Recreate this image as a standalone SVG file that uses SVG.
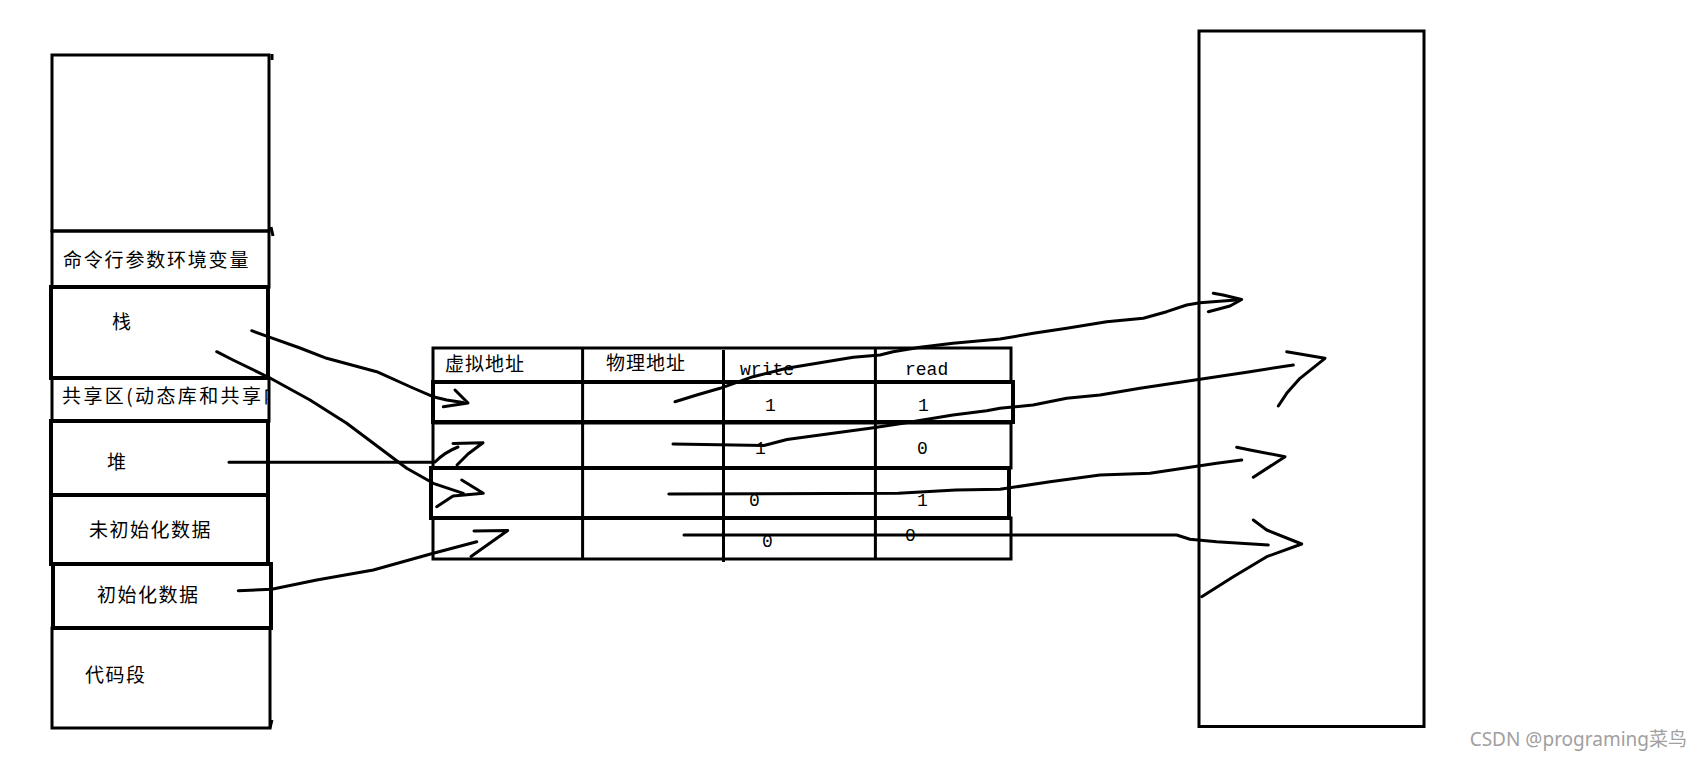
<svg xmlns="http://www.w3.org/2000/svg" width="1701" height="765" viewBox="0 0 1701 765">
<style>
.box{fill:none;stroke:#000;stroke-width:3}
.bold{fill:none;stroke:#000;stroke-width:4}
.ln{fill:none;stroke:#000;stroke-width:3}
.cn{font-family:"Noto Sans CJK SC","Noto Sans CJK JP",sans-serif;font-size:19px;fill:#000}
.mono{font-family:"Liberation Mono","DejaVu Sans Mono",monospace;font-size:18px;fill:#000}
.hand{fill:none;stroke:#000;stroke-width:3;stroke-linecap:round;stroke-linejoin:round}
.wm{font-family:"Noto Sans","Noto Sans CJK SC",sans-serif;font-size:19px;fill:#a0a0a0}
</style>
<defs>
<clipPath id="clipShared"><rect x="52" y="378" width="216" height="43"/></clipPath>
</defs>
<rect x="0" y="0" width="1701" height="765" fill="#fff"/>

<g id="stack-top">
<rect class="box" x="52" y="55" width="217" height="176"/>
<path class="ln" d="M272,54 L272,60 M271,227 L273,236" stroke-width="2"/>
</g>
<g id="seg-cmdline">
<rect class="box" x="52" y="231" width="217" height="56"/>
<text class="cn" x="63" y="267" letter-spacing="1.8">命令行参数环境变量</text>
</g>
<g id="seg-stack">
<rect class="bold" x="51" y="287" width="217" height="91"/>
<text class="cn" x="112" y="329">栈</text>
</g>
<g id="seg-shared">
<rect class="box" x="52" y="378" width="217" height="43"/>
<text class="cn" x="62" y="403" letter-spacing="2.4" clip-path="url(#clipShared)">共享区(动态库和共享内存)</text>
</g>
<g id="seg-heap">
<rect class="bold" x="51" y="421" width="217" height="74"/>
<text class="cn" x="107" y="469">堆</text>
</g>
<g id="seg-bss">
<rect class="bold" x="51" y="495" width="217" height="69"/>
<text class="cn" x="89" y="537" letter-spacing="1.5">未初始化数据</text>
</g>
<g id="seg-data">
<rect class="bold" x="53" y="564" width="218" height="64"/>
<text class="cn" x="97" y="602" letter-spacing="1.5">初始化数据</text>
</g>
<g id="seg-code">
<rect class="box" x="52" y="628" width="218" height="100"/>
<text class="cn" x="85" y="682" letter-spacing="1.5">代码段</text>
<path class="ln" d="M272,720 L270,728" stroke-width="2"/>
</g>

<g id="page-table">
<rect class="box" x="433" y="348" width="578" height="34"/>
<rect class="bold" x="433" y="382" width="580" height="40"/>
<rect class="box" x="433" y="423" width="578" height="45"/>
<rect class="bold" x="431" y="468" width="578" height="50"/>
<rect class="box" x="433" y="518" width="578" height="41"/>
<path class="ln" d="M582.6,348 L582.6,559 M723.5,350 L723.5,562 M875.4,348 L875.4,559"/>
<text class="cn" x="445" y="371" letter-spacing="1">虚拟地址</text>
<text class="cn" x="606" y="370" letter-spacing="1">物理地址</text>
<text class="mono" x="740" y="375">write</text>
<text class="mono" x="905" y="375">read</text>
<text class="mono" x="765" y="411">1</text>
<text class="mono" x="918" y="411">1</text>
<text class="mono" x="755" y="454">1</text>
<text class="mono" x="917" y="454">0</text>
<text class="mono" x="749" y="506">0</text>
<text class="mono" x="917" y="506">1</text>
<text class="mono" x="762" y="547">0</text>
<text class="mono" x="905" y="541">0</text>
</g>

<g id="physical-memory">
<rect class="box" x="1199" y="31" width="225" height="695.5"/>
</g>

<g id="connectors">
<path class="hand" d="M251.7,330.7 L268,336.7 L300,348 L326.7,358.3 L376.7,371.7 L413,388 L433,396.7 L446.7,400 L463,402.5"/>
<path class="hand" d="M455,390 L468,403 L443.3,406.7"/>
<path class="hand" d="M216.7,351.7 L233,360 L270,378 L310,400 L346.7,423.3 L386.7,453.3 L406.7,468.3 L433.3,483.3 L463.3,493.3"/>
<path class="hand" d="M461.7,480 L483.3,493.3 L453,496 L436.7,506.7"/>
<path class="hand" d="M229,462.3 L433,462.3"/>
<path class="hand" d="M435,462 Q445,452 458,447 M453,443.5 L483,442.7 L468,454 L457,465"/>
<path class="hand" d="M238.3,590.7 L271.7,589.3 L316.7,580 L373.3,570 L433.3,553.3 L476.7,541.7"/>
<path class="hand" d="M474,531 L507.7,530.5 L471,556.5"/>

<path class="hand" d="M675,401.7 L696.7,395 L720,388.3 L753,376.7 L786.7,368.3 L820,362.7 L853.3,357.3 L880,355 L893,351.7 L920,347.3 L953,343.3 L1000,339 L1033.3,333.3 L1066.7,328.3 L1106.7,321.7 L1143.3,318.3 L1166.7,311.7 L1186.7,305 L1200,302.7 L1236,300"/>
<path class="hand" d="M1213.3,293.3 L1223,295 L1241.7,299.5 L1230,306 L1208.3,311.7"/>
<path class="hand" d="M673,444 L764,445.5 L787,439.5 L820,435 L870,428.3 L903,423.3 L953,415 L986.7,410.7 L1000,408.3 L1033,405 L1066.7,398.3 L1100,395 L1140,388.3 L1183.3,381.7 L1216.7,376.7 L1250,371.7 L1293.3,365"/>
<path class="hand" d="M1286.7,351.7 L1325,358.3 L1300,378.3 L1286.7,393.3 L1278.3,406"/>
<path class="hand" d="M668.8,494 L898.4,493.3 L955.8,490 L1000,489.3 L1050,481.7 L1100,475 L1150,473.3 L1183.3,468.3 L1216.7,463.3 L1241.7,460"/>
<path class="hand" d="M1236.7,447.3 L1250,450 L1285,456.7 L1253.3,477.3"/>
<path class="hand" d="M684,535 L1176.7,535 L1190,539.3 L1216.7,541.7 L1268.3,545"/>
<path class="hand" d="M1253.3,520 L1266.7,530 L1301.7,544 L1266.7,556.7 L1233.3,576.7 L1201.7,596.7"/>
</g>

<text class="wm" x="1687" y="746" text-anchor="end">CSDN @programing菜鸟</text>
</svg>
